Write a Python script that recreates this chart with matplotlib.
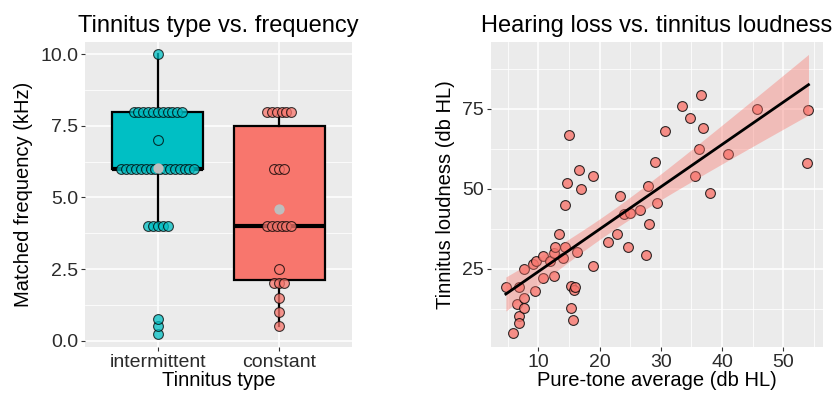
import numpy as np
import matplotlib.pyplot as plt

plt.rcParams['font.family'] = ['Liberation Sans', 'DejaVu Sans']

# tinnitus type vs matched frequency (kHz)
types = ['intermittent', 'constant']
freq_intermittent = [0.25, 0.5, 0.75] + [4] * 5 + [6] * 16 + [7] + [8] * 11 + [10]
freq_constant = [0.5, 1, 1.5] + [2] * 3 + [2.5] + [4] * 6 + [6] * 3 + [8] * 6
type_colors = ['#00BFC4', '#F8766D']

# pure-tone average vs tinnitus loudness (db HL)
pta = [4.7, 6.8, 6.5, 6.8, 6.8, 5.9, 7.6, 7.6, 7.7, 9.1, 9.6, 9.4, 10.7, 10.7,
       11.9, 12.5, 12.7, 12.5, 13.4, 14.1, 14.4, 14.4, 14.6, 15.0, 15.3, 15.3,
       15.6, 15.9, 16.0, 16.3, 16.6, 16.9, 19.0, 19.0, 21.3, 22.8, 23.4, 24.0,
       24.7, 25.0, 26.6, 27.5, 27.9, 28.1, 29.1, 29.4, 30.6, 33.5, 34.8, 35.6,
       36.3, 36.6, 36.9, 38.1, 40.9, 45.7, 53.8, 54.1]
loudness = [19.5, 19.2, 14.0, 10.4, 8.2, 4.9, 15.9, 12.9, 24.9, 26.5, 27.5, 18.0,
            28.9, 22.1, 27.5, 29.9, 32.0, 22.9, 35.9, 28.3, 32.0, 45.0, 52.0,
            67.0, 19.7, 12.9, 8.9, 18.4, 19.5, 30.4, 55.9, 50.0, 26.0, 54.1,
            33.3, 35.9, 47.9, 42.1, 32.0, 42.4, 43.4, 29.4, 50.9, 39.1, 58.5,
            45.5, 68.0, 76.0, 72.1, 54.1, 62.6, 79.2, 69.1, 48.6, 61.0, 75.1,
            58.0, 74.7]

bg = '#EBEBEB'
fig = plt.figure(figsize=(8.36, 3.96), dpi=100)
ax1 = fig.add_axes([0.1017, 0.1245, 0.3194, 0.7702])
ax2 = fig.add_axes([0.587, 0.1245, 0.3979, 0.7702])


def gg_style(ax):
    ax.set_facecolor(bg)
    for s in ax.spines.values():
        s.set_visible(False)
    ax.grid(True, which='major', color='white', linewidth=1.1)
    ax.grid(True, which='minor', color='white', linewidth=0.55)
    ax.set_axisbelow(True)
    ax.tick_params(which='major', length=3, width=0.8, color='#333333',
                   labelsize=14, labelcolor='#2b2b2b', pad=2)
    ax.tick_params(which='minor', length=0)


# left: boxplot + swarm of dots + mean
gg_style(ax1)
groups = [freq_intermittent, freq_constant]
for i, (vals, col) in enumerate(zip(groups, type_colors)):
    pos = i + 1
    ax1.boxplot([vals], positions=[pos], widths=0.75, patch_artist=True,
                showfliers=False, whis=1.5,
                boxprops=dict(facecolor=col, edgecolor='black', linewidth=1.6),
                medianprops=dict(color='black', linewidth=3),
                whiskerprops=dict(color='black', linewidth=1.6),
                capprops=dict(linewidth=0))
    v = np.array(vals, dtype=float)
    xs = np.zeros_like(v)
    for u in np.unique(v):
        idx = np.where(v == u)[0]
        k = len(idx)
        xs[idx] = (np.arange(k) - (k - 1) / 2) * 0.04
    ax1.scatter(pos + xs, v, s=50, facecolor=col, alpha=0.75,
                edgecolor='black', linewidth=0.8, zorder=3)
    ax1.scatter([pos], [v.mean()], s=55, color='#BEBEBE', zorder=4,
                linewidth=0)

ax1.set_xlim(0.4, 2.6)
ax1.set_ylim(-0.21, 10.44)
ax1.set_xticks([1, 2])
ax1.set_xticklabels(types)
ax1.set_yticks([0, 2.5, 5, 7.5, 10])
ax1.set_yticklabels(['0.0', '2.5', '5.0', '7.5', '10.0'])
ax1.set_yticks([1.25, 3.75, 6.25, 8.75], minor=True)
ax1.xaxis.grid(True, which='major', color='white', linewidth=1.1)
ax1.set_title('Tinnitus type vs. frequency', fontsize=17, pad=7)
ax1.set_xlabel('Tinnitus type', fontsize=14.5, labelpad=0)
ax1.set_ylabel('Matched frequency (kHz)', fontsize=14.5, labelpad=5)

# right: scatter with linear fit and 95% band
gg_style(ax2)
x = np.array(pta)
y = np.array(loudness)
n = len(x)
b1, b0 = np.polyfit(x, y, 1)
resid = y - (b0 + b1 * x)
s_err = np.sqrt(np.sum(resid ** 2) / (n - 2))
t_crit = 2.003
xg = np.linspace(x.min(), x.max(), 80)
yg = b0 + b1 * xg
se = s_err * np.sqrt(1 / n + (xg - x.mean()) ** 2 / np.sum((x - x.mean()) ** 2))
ax2.scatter(x, y, s=50, facecolor='#F8766D', alpha=0.8, edgecolor='black',
            linewidth=0.8, zorder=3)
ax2.fill_between(xg, yg - t_crit * se, yg + t_crit * se, color='#F8766D',
                 alpha=0.4, linewidth=0, zorder=4)
ax2.plot(xg, yg, color='black', linewidth=2, zorder=5)

ax2.set_xlim(2.23, 56.53)
ax2.set_ylim(0.7, 96.0)
ax2.set_xticks([10, 20, 30, 40, 50])
ax2.set_xticks([5, 15, 25, 35, 45, 55], minor=True)
ax2.set_yticks([25, 50, 75])
ax2.set_yticks([12.5, 37.5, 62.5, 87.5], minor=True)
ax2.set_title('Hearing loss vs. tinnitus loudness', fontsize=17, pad=7)
ax2.set_xlabel('Pure-tone average (db HL)', fontsize=14.5, labelpad=0)
ax2.set_ylabel('Tinnitus loudness (db HL)', fontsize=14.5, labelpad=5)

plt.savefig('out.png', dpi=100)
plt.close(fig)
